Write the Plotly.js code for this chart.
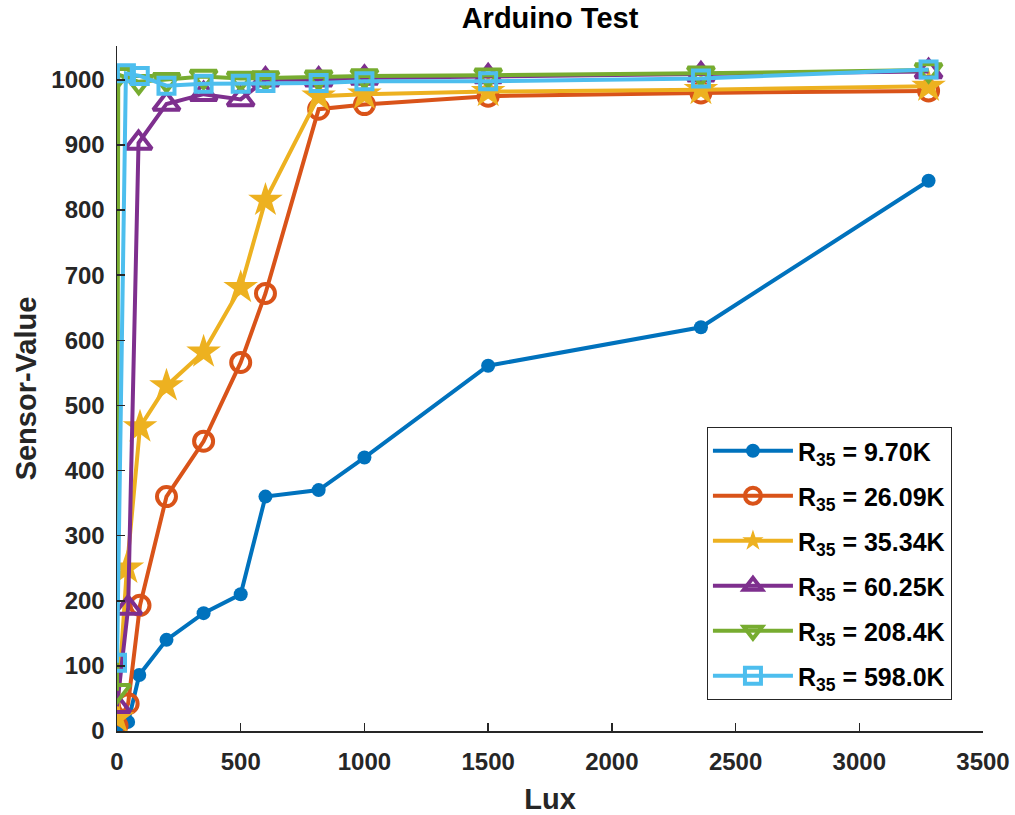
<!DOCTYPE html>
<html>
<head>
<meta charset="utf-8">
<script src="https://cdn.plot.ly/plotly-3.0.1.min.js"></script>
<style>html,body{margin:0;padding:0;background:#fff;}#chart{width:1015px;height:815px;}</style>
</head>
<body>
<div id="chart"></div>
<script>
// Data
const seriesNames = ["R<sub>35</sub> = 9.70K", "R<sub>35</sub> = 26.09K", "R<sub>35</sub> = 35.34K",
                     "R<sub>35</sub> = 60.25K", "R<sub>35</sub> = 208.4K", "R<sub>35</sub> = 598.0K"];

const luxR970   = [0, 45, 90, 200, 350, 500, 600, 815, 1000, 1500, 2360, 3280];
const valR970   = [5, 14, 86, 140, 181, 210, 360, 370, 420, 561, 620, 845];

const luxR2609  = [0, 45, 93, 200, 350, 500, 600, 815, 1000, 1500, 2360, 3280];
const valR2609  = [8, 42, 193, 360, 445, 566, 672, 955, 962, 975, 980, 983];

const luxR3534  = [0, 40, 93, 200, 350, 500, 600, 815, 1000, 1500, 2360, 3280];
const valR3534  = [20, 250, 467, 530, 582, 681, 815, 975, 978, 982, 985, 990];

const luxR6025  = [0, 45, 87, 200, 350, 500, 600, 815, 1000, 1500, 2360, 3280];
const valR6025  = [38, 189, 903, 963, 978, 970, 1000, 1000, 1003, 1005, 1008, 1013];

const luxR2084  = [0, 5, 88, 200, 350, 500, 600, 815, 1000, 1500, 2360, 3280];
const valR2084  = [62, 1008, 997, 1000, 1005, 1002, 1003, 1004, 1006, 1007, 1010, 1015];

const luxR5980  = [0, 36, 92, 200, 350, 500, 600, 815, 1000, 1500, 2360, 3280];
const valR5980  = [105, 1010, 1006, 991, 994, 994, 995, 995, 998, 998, 1002, 1016];

const xTicks = [0, 500, 1000, 1500, 2000, 2500, 3000, 3500];
const yTicks = [0, 100, 200, 300, 400, 500, 600, 700, 800, 900, 1000];

const colors = ["#0072BD", "#D95319", "#EDB120", "#7E2F8E", "#77AC30", "#4DBEEE"];
const symbols = ["circle", "circle-open", "star", "triangle-up-open", "triangle-down-open", "square-open"];
const sizes = [14, 19, 26, 23, 23, 16];
const xs = [luxR970, luxR2609, luxR3534, luxR6025, luxR2084, luxR5980];
const ys = [valR970, valR2609, valR3534, valR6025, valR2084, valR5980];

const traces = xs.map((x, i) => ({
  type: "scatter",
  mode: "lines+markers",
  x: x,
  y: ys[i],
  name: seriesNames[i],
  legendgroup: "g" + i,
  line: {color: colors[i], width: 4},
  marker: {symbol: symbols[i], size: sizes[i], color: colors[i],
           line: {color: colors[i], width: (symbols[i].endsWith("open") ? 4 : 0)}}
}));

const FF = "Liberation Sans, Arial, sans-serif";
const tickFont = {family: FF, size: 24, color: "#262626", weight: "bold"};

const layout = {
  width: 1015, height: 815,
  paper_bgcolor: "#ffffff", plot_bgcolor: "#ffffff",
  margin: {l: 117, r: 32, t: 46, b: 84},
  font: {family: FF, color: "#262626"},
  title: {text: "Arduino Test", x: 0.5, xref: "paper", y: 0.99, yanchor: "top",
          font: {size: 29, color: "#000000", weight: "bold", family: FF}},
  xaxis: {
    range: [0, 3500], tickvals: xTicks, ticktext: xTicks.map(String),
    showgrid: false, zeroline: false, showline: true, linecolor: "#262626", linewidth: 1.5,
    ticks: "inside", ticklen: 8, tickwidth: 1.5, tickcolor: "#262626",
    tickfont: tickFont, ticklabelstandoff: 9,
    title: {text: "Lux", standoff: 14, font: {size: 29, color: "#262626", weight: "bold"}}
  },
  yaxis: {
    range: [0, 1052], tickvals: yTicks, ticktext: yTicks.map(String),
    showgrid: false, zeroline: false, showline: true, linecolor: "#262626", linewidth: 1.5,
    ticks: "inside", ticklen: 8, tickwidth: 1.5, tickcolor: "#262626",
    tickfont: tickFont, ticklabelstandoff: 6,
    title: {text: "Sensor-Value", standoff: 6, font: {size: 29, color: "#262626", weight: "bold"}}
  },
  legend: {
    x: 0.681, y: 0.444, xanchor: "left", yanchor: "top",
    bgcolor: "#ffffff", bordercolor: "#262626", borderwidth: 1.2,
    font: {size: 25, color: "#000000", weight: "bold"},
    itemwidth: 80, tracegroupgap: 9.5
  },
  showlegend: true
};

Plotly.newPlot("chart", traces, layout, {staticPlot: true, displayModeBar: false});
</script>
</body>
</html>
